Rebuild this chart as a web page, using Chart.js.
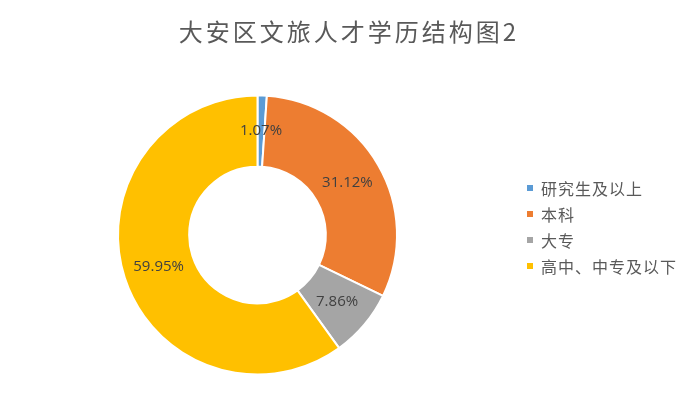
<!DOCTYPE html>
<html><head><meta charset="utf-8">
<script src="https://cdn.jsdelivr.net/npm/chart.js@4"></script>
<style>html,body{margin:0;padding:0;background:#fff;}#wrap{width:700px;height:418px;}</style>
</head><body><div id="wrap"><canvas id="c" width="700" height="418"></canvas></div>
<script>
const titleText = '大安区文旅人才学历结构图2';
const categories = ['研究生及以上', '本科', '大专', '高中、中专及以下'];
const values = [1.07, 31.12, 7.86, 59.95];
const labels = ['1.07%', '31.12%', '7.86%', '59.95%'];
const colors = ['#5B9BD5', '#ED7D31', '#A5A5A5', '#FFC000'];

const CJK = '"Noto Sans CJK SC", "Noto Sans", sans-serif';

const overlay = {
  id: 'overlay',
  afterDatasetsDraw(chart) {
    const ctx = chart.ctx;
    const meta = chart.getDatasetMeta(0);
    ctx.save();
    // data labels
    ctx.font = '15px "Open Sans", "Noto Sans", sans-serif';
    ctx.fillStyle = '#404040';
    ctx.textAlign = 'center';
    ctx.textBaseline = 'middle';
    meta.data.forEach((arc, i) => {
      const p = arc.tooltipPosition();
      ctx.fillText(labels[i], p.x, p.y);
    });
    // title
    ctx.font = '24px ' + CJK;
    ctx.fillStyle = '#595959';
    ctx.letterSpacing = '3px';
    ctx.textAlign = 'center';
    ctx.fillText(titleText, 349, 32);
    ctx.letterSpacing = '1px';
    // legend
    ctx.font = '16px ' + CJK;
    ctx.textAlign = 'left';
    const ys = [188, 214, 240, 266];
    categories.forEach((c, i) => {
      ctx.fillStyle = colors[i];
      ctx.fillRect(527, ys[i] - 3, 6, 6);
      ctx.fillStyle = '#595959';
      ctx.fillText(c, 541, ys[i] + 1);
    });
    ctx.restore();
  }
};

new Chart(document.getElementById('c'), {
  type: 'doughnut',
  data: {
    labels: categories,
    datasets: [{
      data: values,
      backgroundColor: colors,
      borderColor: '#ffffff',
      borderWidth: 2
    }]
  },
  options: {
    responsive: false,
    animation: false,
    cutout: '49%',
    layout: { padding: { left: 117, top: 94.5, right: 302, bottom: 42.5 } },
    plugins: { legend: { display: false }, tooltip: { enabled: false }, title: { display: false } }
  },
  plugins: [overlay]
});
</script>
</body></html>
